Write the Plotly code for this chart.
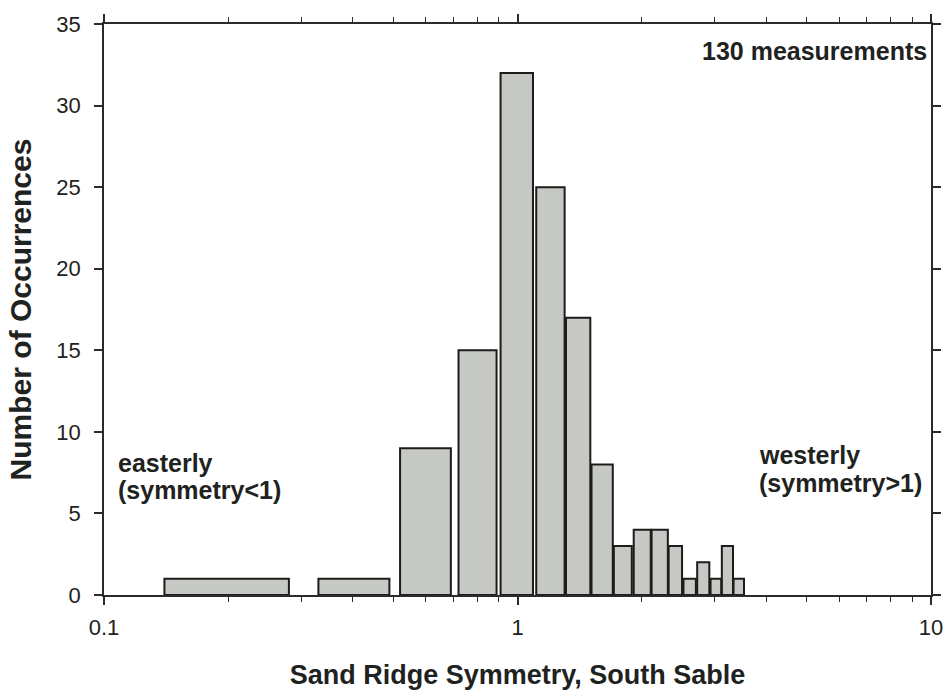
import plotly.graph_objects as go

# Histogram of sand ridge symmetry ratios (log-spaced x axis)
bin_lo = [0.14, 0.33, 0.52, 0.72, 0.91, 1.11, 1.31, 1.51, 1.71, 1.91,
          2.11, 2.32, 2.52, 2.72, 2.93, 3.12, 3.33]
bin_hi = [0.28, 0.49, 0.69, 0.89, 1.09, 1.30, 1.50, 1.70, 1.89, 2.10,
          2.31, 2.50, 2.70, 2.91, 3.11, 3.32, 3.53]
counts = [1, 1, 9, 15, 32, 25, 17, 8, 3, 4, 4, 3, 1, 2, 1, 3, 1]

x_major = [0.1, 1, 10]
x_major_text = ["0.1", "1", "10"]
x_minor = [0.2, 0.3, 0.4, 0.5, 0.6, 0.7, 0.8, 0.9,
           2, 3, 4, 5, 6, 7, 8, 9]
y_ticks = [0, 5, 10, 15, 20, 25, 30, 35]

FONT = "Liberation Sans, Arial, sans-serif"
INK = "#1e2220"
AXIS = "#2b2b2b"

# Build one closed rectangle per bin; None breaks the path between bars
xs, ys = [], []
for lo, hi, c in zip(bin_lo, bin_hi, counts):
    xs += [lo, lo, hi, hi, lo, None]
    ys += [0, c, c, 0, 0, None]

fig = go.Figure(
    go.Scatter(
        x=xs, y=ys, mode="lines", fill="toself",
        fillcolor="#c6c8c3",
        line=dict(color="#1c1c1c", width=2),
        hoverinfo="skip", showlegend=False,
    )
)

fig.update_layout(
    width=948, height=697,
    margin=dict(l=104, r=17, t=24, b=102),
    paper_bgcolor="white", plot_bgcolor="white",
    font=dict(family=FONT, color=INK),
    showlegend=False,
)

fig.update_xaxes(
    type="log", range=[-1, 1],
    showline=True, linecolor=AXIS, linewidth=1.5, mirror="ticks",
    ticks="outside", ticklen=8, tickwidth=1.5, tickcolor=AXIS,
    tickvals=x_major, ticktext=x_major_text,
    tickfont=dict(size=22, color=INK, family=FONT),
    ticklabelstandoff=4,
    minor=dict(tickvals=x_minor, ticks="outside", ticklen=5,
               tickwidth=1.3, tickcolor=AXIS, showgrid=False),
    showgrid=False, zeroline=False, automargin=False,
    title=dict(text="Sand Ridge Symmetry, South Sable",
               font=dict(size=27, family=FONT, weight="bold", color=INK),
               standoff=26),
)

fig.update_yaxes(
    range=[0, 35],
    showline=True, linecolor=AXIS, linewidth=1.5, mirror="ticks",
    ticks="outside", ticklen=8, tickwidth=1.5, tickcolor=AXIS,
    tickvals=y_ticks,
    tickfont=dict(size=22, color=INK, family=FONT),
    ticklabelstandoff=9,
    showgrid=False, zeroline=False, automargin=False,
    title=dict(text="Number of Occurrences",
               font=dict(size=30, family=FONT, weight="bold", color=INK),
               standoff=16),
)

label_font = dict(size=25, family=FONT, weight="bold", color=INK)

fig.add_annotation(text="130 measurements", xref="paper", yref="paper",
                   x=0.997, y=0.952, xanchor="right", yanchor="middle",
                   showarrow=False, font=label_font)

fig.add_annotation(text="easterly", xref="paper", yref="paper",
                   x=0.0145, y=(595 - 463) / 571, xanchor="left",
                   yanchor="middle", showarrow=False, font=label_font)
fig.add_annotation(text="(symmetry<1)", xref="paper", yref="paper",
                   x=0.0145, y=(595 - 490) / 571, xanchor="left",
                   yanchor="middle", showarrow=False, font=label_font)

fig.add_annotation(text="westerly", xref="paper", yref="paper",
                   x=0.789, y=(595 - 455) / 571, xanchor="left",
                   yanchor="middle", showarrow=False, font=label_font)
fig.add_annotation(text="(symmetry>1)", xref="paper", yref="paper",
                   x=0.789, y=(595 - 483) / 571, xanchor="left",
                   yanchor="middle", showarrow=False, font=label_font)

fig.write_html("out.html")
